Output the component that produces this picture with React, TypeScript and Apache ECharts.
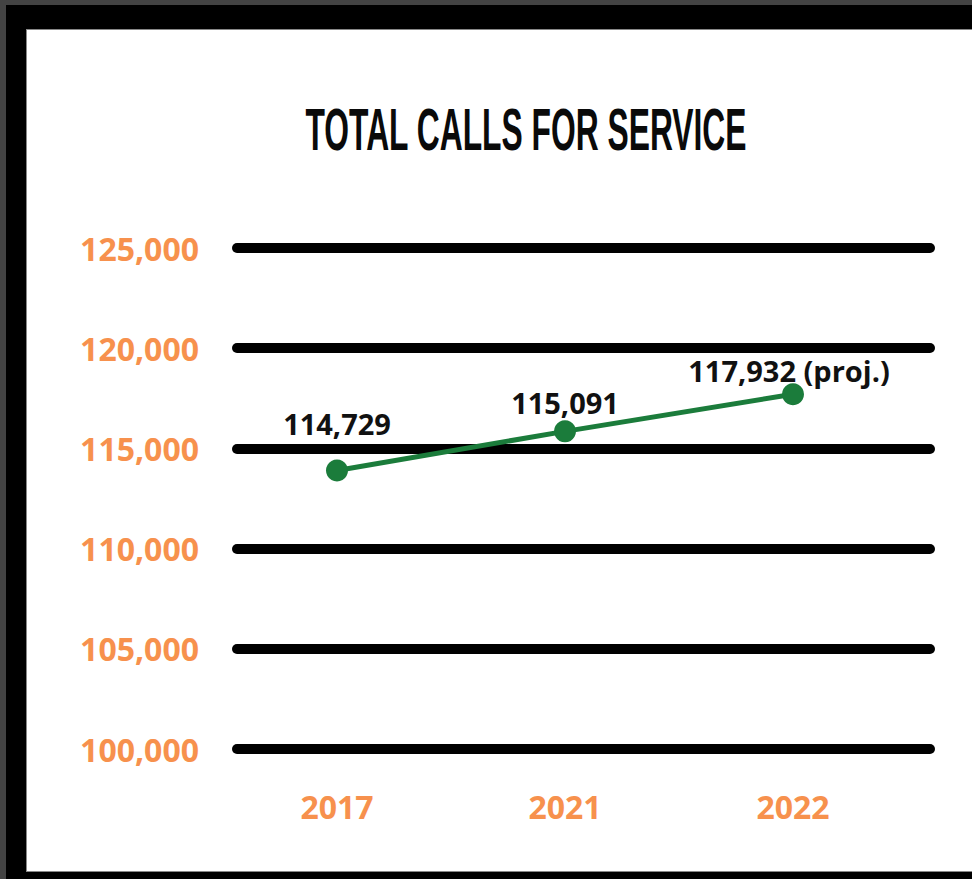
import React, { useEffect, useRef } from "react";
import * as echarts from "echarts";

const years = ["2017", "2021", "2022"];
const plottedValues = [113900, 115850, 117700];
const valueLabels = ["114,729", "115,091", "117,932 (proj.)"];
const yMin = 100000;
const yMax = 125000;
const yStep = 5000;
const titleText = "TOTAL CALLS FOR SERVICE";

const ORANGE = "#F7914D";
const GREEN = "#1B7C3B";
const labelOffsets = [
  [0, -21],
  [0, -3],
  [-4, 2],
];

function measure(text: string, font: string): number {
  const c = document.createElement("canvas");
  const ctx = c.getContext("2d");
  if (!ctx) return text.length * 20;
  ctx.font = font;
  return ctx.measureText(text).width;
}

export default function App() {
  const ref = useRef<HTMLDivElement>(null);
  useEffect(() => {
    if (!ref.current) return;
    const chart = echarts.init(ref.current, null, { renderer: "svg" });
    const titleFont = "bold 60px 'Liberation Sans'";
    const tw = measure(titleText, titleFont);
    const sx = 442 / tw;
    chart.setOption({
      animation: false,
      backgroundColor: "transparent",
      graphic: [
        {
          type: "text",
          x: 526,
          y: 129,
          scaleX: sx,
          z: 100,
          style: {
            text: titleText,
            fontFamily: "'Liberation Sans'",
            fontWeight: "bold",
            fontSize: 60,
            fill: "#0a0a0a",
            textAlign: "center",
            textVerticalAlign: "middle",
          },
        },
      ],
      grid: [
        { left: 223, right: 65, top: 248, bottom: 130 },
        { left: 237, right: 42, top: 248, bottom: 130 },
      ],
      xAxis: [
        {
          type: "category",
          gridIndex: 0,
          data: years,
          boundaryGap: true,
          axisLine: { show: false },
          axisTick: { show: false },
          splitLine: { show: false },
          axisLabel: {
            color: ORANGE,
            fontSize: 32,
            fontWeight: "bold",
            fontFamily: "'Open Sans'",
            margin: 41,
          },
        },
        { type: "value", gridIndex: 1, show: false, min: 0, max: 1 },
      ],
      yAxis: [
        { type: "value", gridIndex: 0, min: yMin, max: yMax, show: false },
        {
          type: "value",
          gridIndex: 1,
          min: yMin,
          max: yMax,
          interval: yStep,
          axisLine: { show: false },
          axisTick: { show: false },
          splitLine: {
            show: true,
            lineStyle: { color: "#000", width: 10, cap: "round" },
          },
          axisLabel: {
            color: ORANGE,
            fontSize: 32,
            fontWeight: "bold",
            fontFamily: "'Open Sans'",
            margin: 38,
            padding: [6, 0, 0, 0],
            formatter: (v: number) => v.toLocaleString("en-US"),
          },
        },
      ],
      series: [
        {
          type: "line",
          xAxisIndex: 0,
          yAxisIndex: 0,
          data: plottedValues.map((v, i) => ({
            value: v,
            label: { offset: labelOffsets[i] },
          })),
          symbol: "circle",
          symbolSize: 22,
          z: 5,
          lineStyle: { color: GREEN, width: 5 },
          itemStyle: { color: GREEN },
          label: {
            show: true,
            position: "top",
            distance: 0,
            formatter: (p: any) => valueLabels[p.dataIndex],
            color: "#111",
            fontSize: 29,
            fontWeight: "bold",
            fontFamily: "'Open Sans'",
          },
        },
      ],
    });
    return () => chart.dispose();
  }, []);

  return (
    <div
      style={{
        position: "fixed",
        left: 0,
        top: 0,
        width: 972,
        height: 879,
        background: "#434343",
        overflow: "hidden",
      }}
    >
      <div
        style={{
          position: "absolute",
          left: 6,
          top: 5,
          width: 980,
          height: 880,
          background: "#000",
        }}
      />
      <div
        style={{
          position: "absolute",
          left: 26,
          top: 29,
          width: 960,
          height: 843,
          background: "#fff",
          boxSizing: "border-box",
          border: "1px solid #888",
        }}
      />
      <div
        ref={ref}
        style={{ position: "absolute", left: 0, top: 0, width: 972, height: 879 }}
      />
    </div>
  );
}
